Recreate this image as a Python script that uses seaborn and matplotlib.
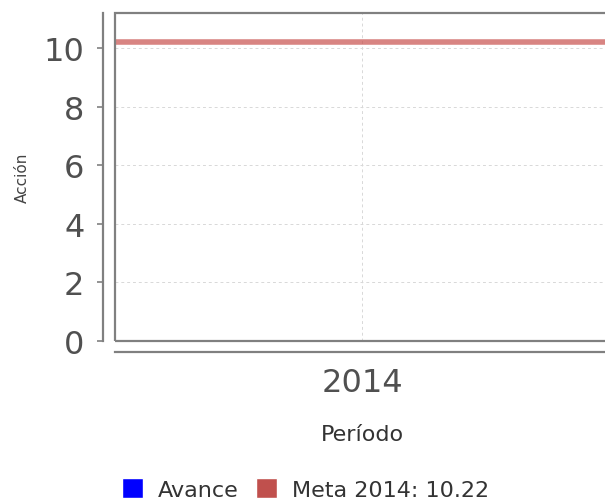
import matplotlib
matplotlib.use("Agg")
import matplotlib.pyplot as plt
from matplotlib.patches import Patch, Rectangle
import seaborn as sns

# data
periodos = ["2014"]
avance = [0.0]
meta_valor = 10.22
meta_label = "Meta 2014: 10.22"
y_ticks = [0, 2, 4, 6, 8, 10]

sns.set_theme(style="white")
plt.rcParams["font.family"] = ["DejaVu Sans"]

fig = plt.figure(figsize=(6.05, 5.02), dpi=100)
ax = fig.add_axes([0.190, 0.3187, 0.8165, 0.6534])

sns.barplot(x=periodos, y=avance, color="#0000ff", ax=ax, width=0.5)
ax.axhline(meta_valor, color="#c8504d", alpha=0.7, lw=4, zorder=3)

ax.set_ylim(0, 11.2)
ax.set_yticks(y_ticks)
ax.grid(True, axis="both", linestyle=(0, (3, 3)), color="#d8d8d8", lw=0.7)
ax.set_axisbelow(True)

# separate axis lines like the original
for side in ["top", "right"]:
    ax.spines[side].set_visible(False)
ax.spines["left"].set_position(("outward", 8.6))
ax.spines["bottom"].set_position(("outward", 7.9))
for side in ["left", "bottom"]:
    ax.spines[side].set_color("#808080")
    ax.spines[side].set_linewidth(1.6)
ax.add_patch(Rectangle((0, 0), 1, 1, transform=ax.transAxes, fill=False,
                       edgecolor="#808080", lw=1.6, clip_on=False, zorder=5))

ax.tick_params(axis="y", left=True, length=4, width=1.2, color="#808080",
               labelsize=23, labelcolor="#505050", pad=9.5)
ax.tick_params(axis="x", bottom=False, labelsize=23, labelcolor="#505050", pad=4.5)

ax.set_ylabel("Acción", fontsize=11, color="#444444", labelpad=9.5)
ax.set_xlabel("Período", fontsize=16, color="#333333", labelpad=19)

handles = [Patch(facecolor="#0000ff", label="Avance"),
           Patch(facecolor="#c0504d", label=meta_label)]
fig.legend(handles=handles, loc="center", bbox_to_anchor=(0.505, 0.024), ncol=2,
           frameon=False, fontsize=16, handlelength=0.95, handleheight=0.95,
           handletextpad=0.65, columnspacing=0.8, labelcolor="#333333")

fig.savefig("out.png", dpi=100)
